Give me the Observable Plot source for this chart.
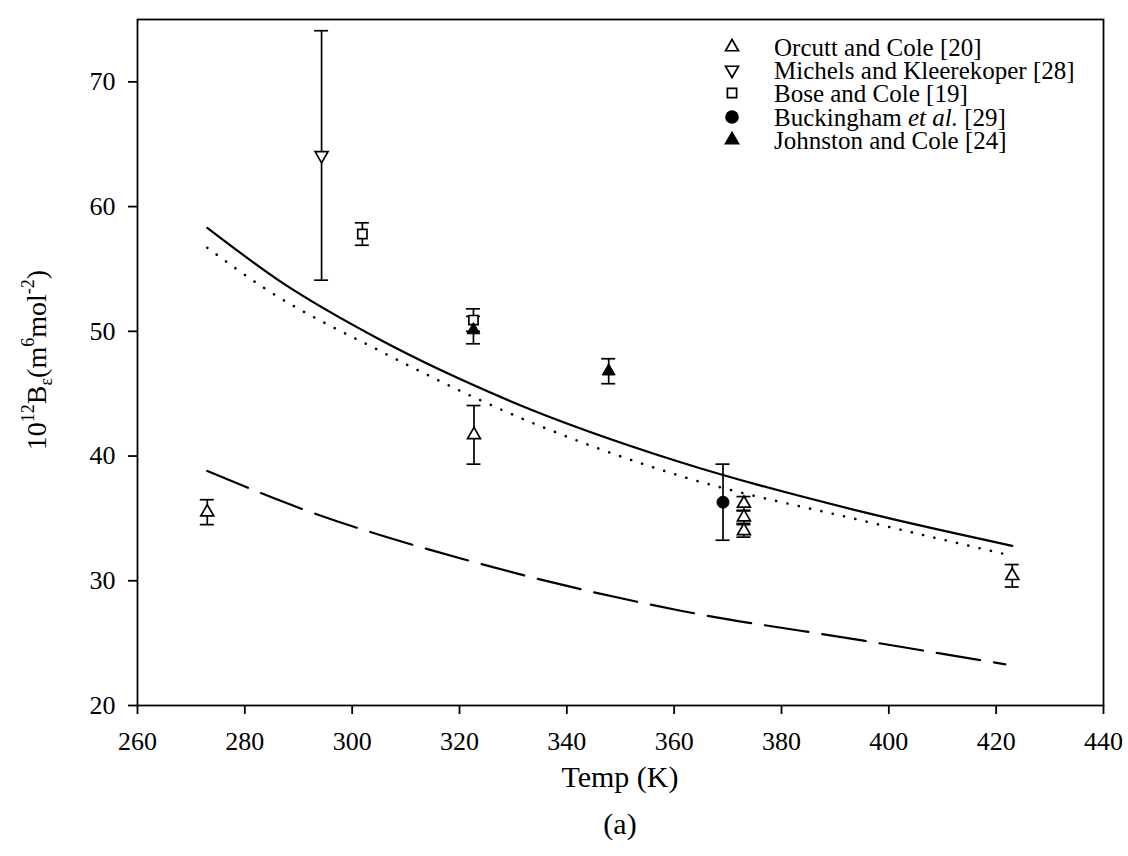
<!DOCTYPE html>
<html><head><meta charset="utf-8">
<script src="https://cdn.jsdelivr.net/npm/d3@7"></script>
<script src="https://cdn.jsdelivr.net/npm/@observablehq/plot@0.6"></script>
<style>
body{margin:0;background:#fff;}
#chart svg{font-family:"Liberation Serif","Times New Roman",serif;}
</style></head><body><div id="chart"></div>
<script>
// Axis ticks
const xTicks = [260, 280, 300, 320, 340, 360, 380, 400, 420, 440];
const yTicks = [20, 30, 40, 50, 60, 70];

// Experimental series: temperature (K), value, error half-width
const orcuttT = [273, 322.7, 373, 373, 373, 423];
const orcuttB = [35.5, 41.7, 36.2, 35.1, 34.0, 30.4];
const orcuttE = [1.0, 2.35, 0.55, 0.5, 0.5, 0.9];

const michelsT = [294.3];
const michelsB = [64.1];
const michelsE = [10.0];

const boseT = [301.9, 322.6];
const boseB = [57.8, 50.9];
const boseE = [0.9, 0.9];

const buckT = [369.1];
const buckB = [36.3];
const buckE = [3.05];

const johnT = [322.6, 347.8];
const johnB = [50.1, 46.8];
const johnE = [1.1, 1.0];

// Theoretical curves
const solidT = [273, 286.6, 305.3, 329.5, 361.2, 395.3, 423];
const solidB = [58.3, 54.0, 49.3, 44.4, 39.5, 35.5, 32.8];
const dottedT = [273, 283.5, 305.3, 329.5, 361.2, 395.3, 423];
const dottedB = [56.7, 53.5, 48.4, 43.4, 38.4, 34.8, 32.0];
const dashedT = [273, 290.4, 322.7, 361.2, 395.3, 421.7];
const dashedB = [38.8, 35.8, 31.5, 27.6, 25.2, 23.3];

const legendLabels = ["Orcutt and Cole [20]", "Michels and Kleerekoper [28]", "Bose and Cole [19]", "Buckingham et al. [29]", "Johnston and Cole [24]"];

const toPts = (T, B, E) => T.map((t, i) => ({T: t, B: B[i], e: E ? E[i] : 0}));
const toLine = (T, B) => T.map((t, i) => ({T: t, B: B[i]}));

const orcutt = toPts(orcuttT, orcuttB, orcuttE);
const michels = toPts(michelsT, michelsB, michelsE);
const bose = toPts(boseT, boseB, boseE);
const buck = toPts(buckT, buckB, buckE);
const john = toPts(johnT, johnB, johnE);
const allPts = [...orcutt, ...michels, ...bose, ...buck, ...john];

const SW = 1.7;
const errMarks = (data) => [
  Plot.ruleX(data, {x: "T", y1: d => d.B - d.e, y2: d => d.B + d.e, stroke: "#000", strokeWidth: SW}),
  Plot.ruleY(data, {x1: "T", x2: "T", y: d => d.B + d.e, insetLeft: -7, insetRight: -7, stroke: "#000", strokeWidth: SW}),
  Plot.ruleY(data, {x1: "T", x2: "T", y: d => d.B - d.e, insetLeft: -7, insetRight: -7, stroke: "#000", strokeWidth: SW})
];

const plot = Plot.plot({
  width: 1128,
  height: 856,
  marginLeft: 137,
  marginRight: 25,
  marginTop: 19,
  marginBottom: 151,
  style: {fontFamily: "Liberation Serif, Times New Roman, serif", fontSize: "26px", color: "#000", background: "#fff"},
  x: {domain: [260, 440], ticks: xTicks, tickSize: 9, tickPadding: 17, label: null},
  y: {domain: [20, 75], ticks: yTicks, tickSize: 9, tickPadding: 13, label: null},
  marks: [
    Plot.line(toLine(solidT, solidB), {x: "T", y: "B", curve: "monotone-x", stroke: "#000", strokeWidth: 2.2}),
    Plot.line(toLine(dottedT, dottedB), {x: "T", y: "B", curve: "monotone-x", stroke: "#000", strokeWidth: 2.6, strokeDasharray: "0.1 11.5", strokeLinecap: "round"}),
    Plot.line(toLine(dashedT, dashedB), {x: "T", y: "B", curve: "monotone-x", stroke: "#000", strokeWidth: 2.2, strokeDasharray: "44 14"}),
    ...errMarks(allPts),
    Plot.dot(orcutt, {x: "T", y: "B", symbol: "triangle", r: 4.8, fill: "#fff", stroke: "#000", strokeWidth: SW}),
    Plot.dot(michels, {x: "T", y: "B", symbol: "triangle", rotate: 180, r: 4.8, fill: "#fff", stroke: "#000", strokeWidth: SW}),
    Plot.dot(bose, {x: "T", y: "B", symbol: "square", r: 5.2, fill: "#fff", stroke: "#000", strokeWidth: SW}),
    Plot.dot(buck, {x: "T", y: "B", symbol: "circle", r: 6, fill: "#000", stroke: "#000", strokeWidth: 1}),
    Plot.dot(john, {x: "T", y: "B", symbol: "triangle", r: 4.8, fill: "#000", stroke: "#000", strokeWidth: 1}),
    Plot.frame({stroke: "#000", strokeWidth: 1.8})
  ]
});

document.getElementById("chart").appendChild(plot);

const svg = d3.select(plot);
svg.selectAll("[aria-label='x-axis tick'], [aria-label='y-axis tick']").attr("stroke-width", 1.8);

// Legend
const legSym = [
  {type: d3.symbolTriangle, r: 4.8, fill: "#fff", rot: 0},
  {type: d3.symbolTriangle, r: 4.8, fill: "#fff", rot: 180},
  {type: d3.symbolSquare, r: 5.2, fill: "#fff", rot: 0},
  {type: d3.symbolCircle, r: 6, fill: "#000", rot: 0},
  {type: d3.symbolTriangle, r: 4.8, fill: "#000", rot: 0}
];
const legRowY = [47, 70, 93, 117, 140];
const leg = svg.append("g").attr("font-size", 25).attr("text-anchor", "start").attr("font-family", "Liberation Serif, Times New Roman, serif");
legendLabels.forEach((lab, i) => {
  const s = legSym[i];
  leg.append("path")
    .attr("d", d3.symbol(s.type, Math.PI * s.r * s.r)())
    .attr("transform", `translate(732,${legRowY[i]}) rotate(${s.rot})`)
    .attr("fill", s.fill).attr("stroke", "#000").attr("stroke-width", SW);
  const t = leg.append("text").attr("x", 774).attr("y", legRowY[i]).attr("dy", "0.35em").attr("text-anchor", "start").attr("fill", "#000");
  if (lab.includes("et al.")) {
    const parts = lab.split("et al.");
    t.append("tspan").text(parts[0]);
    t.append("tspan").attr("font-style", "italic").text("et al.");
    t.append("tspan").text(parts[1]);
  } else t.text(lab);
});

// Axis titles
svg.append("text").attr("x", 620).attr("y", 787).attr("text-anchor", "middle").attr("font-size", 30).attr("fill", "#000").text("Temp (K)");
svg.append("text").attr("x", 620).attr("y", 834).attr("text-anchor", "middle").attr("font-size", 30).attr("fill", "#000").text("(a)");

const yl = svg.append("text").attr("transform", "translate(46,360) rotate(-90)").attr("text-anchor", "middle").attr("font-size", 28).attr("fill", "#000");
yl.append("tspan").text("10");
yl.append("tspan").attr("font-size", 18).attr("dy", -12).text("12");
yl.append("tspan").attr("dy", 12).text("B");
yl.append("tspan").attr("font-size", 18).attr("dy", 6).text("\u03b5");
yl.append("tspan").attr("dy", -6).text("(m");
yl.append("tspan").attr("font-size", 18).attr("dy", -12).text("6");
yl.append("tspan").attr("dy", 12).text("mol");
yl.append("tspan").attr("font-size", 18).attr("dy", -12).text("-2");
yl.append("tspan").attr("dy", 12).text(")");
</script></body></html>
